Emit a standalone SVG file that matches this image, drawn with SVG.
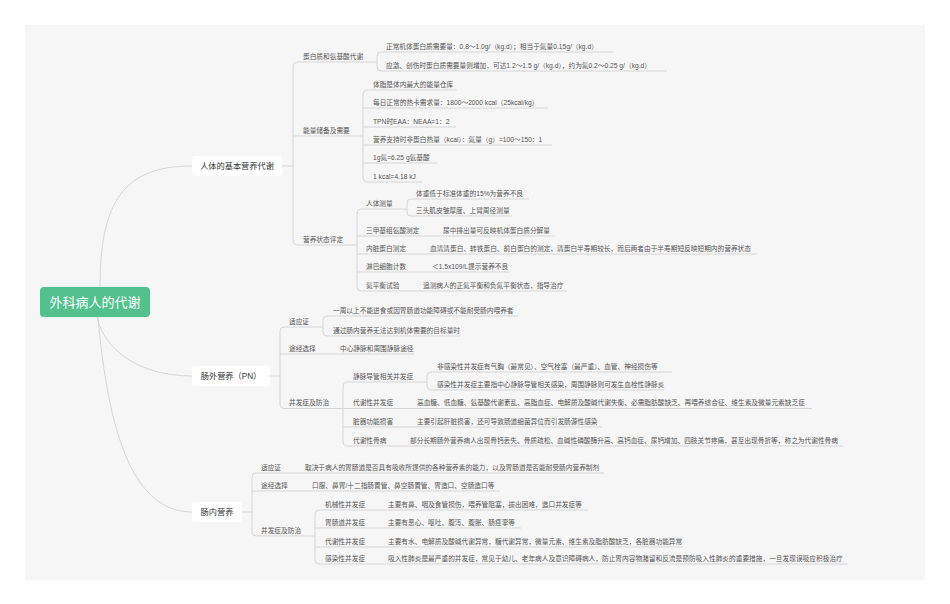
<svg xmlns="http://www.w3.org/2000/svg" width="950" height="604" viewBox="0 0 950 604">
<style>
.t{font-family:"Liberation Sans","Noto Sans CJK SC",sans-serif;font-size:6.7px;fill:#555}
.n{font-family:"Liberation Sans","Noto Sans CJK SC",sans-serif;font-size:8.2px;fill:#333;text-anchor:middle}
.r{font-family:"Liberation Sans","Noto Sans CJK SC",sans-serif;font-size:13px;fill:#fff;text-anchor:middle}
.c{fill:none;stroke:#d2d2d2;stroke-width:0.9}
.box{fill:#fff}
</style>
<rect x="0" y="0" width="950" height="604" fill="#fff"/>
<rect x="25" y="25" width="900" height="555" fill="#f6f6f6"/>
<g id="connectors" class="c">
<path d="M100 287 C100 200 125 166 192 166"/>
<path d="M97 317 C104 350 140 376 192 376"/>
<path d="M98 317 C108 430 132 512 192 512"/>
<!-- A -->
<path d="M282 166 H293"/>
<path d="M298 62 Q293 62 293 67 V240 Q293 245 298 245"/>
<path d="M298 62 H377"/>
<path d="M381 52 Q377 52 377 56 V67 Q377 71 381 71"/>
<path d="M381 52 H613"/>
<path d="M381 71 H667"/>
<path d="M293 136 H363"/>
<path d="M367 90 Q363 90 363 94 V178 Q363 182 367 182"/>
<path d="M367 90 H457"/>
<path d="M363 108 H548"/>
<path d="M363 127 H456"/>
<path d="M363 145 H552"/>
<path d="M363 163 H437"/>
<path d="M367 182 H422"/>
<path d="M298 245 H357"/>
<path d="M361 209 Q357 209 357 213 V287 Q357 291 361 291"/>
<path d="M361 209 H407"/>
<path d="M411 199 Q407 199 407 203 V212 Q407 216 411 216"/>
<path d="M411 199 H529"/>
<path d="M411 216 H512"/>
<path d="M357 236 H555"/>
<path d="M357 254 H757"/>
<path d="M357 272 H510"/>
<path d="M361 291 H567"/>
<!-- B -->
<path d="M270 376 H280"/>
<path d="M284 327 Q280 327 280 331 V404.5 Q280 408.5 284 408.5"/>
<path d="M284 327 H323"/>
<path d="M327 316 Q323 316 323 320 V332 Q323 336 327 336"/>
<path d="M327 316 H518"/>
<path d="M327 336 H460"/>
<path d="M280 354 H414"/>
<path d="M284 408.5 H343"/>
<path d="M347 382 Q343 382 343 386 V442 Q343 446 347 446"/>
<path d="M347 382 H427"/>
<path d="M431 372 Q427 372 427 376 V386 Q427 390 431 390"/>
<path d="M431 372 H672"/>
<path d="M431 390 H664"/>
<path d="M343 408.5 H812"/>
<path d="M343 427 H602"/>
<path d="M347 446 H843"/>
<!-- C -->
<path d="M242 512 H252"/>
<path d="M256 473 Q252 473 252 477 V532 Q252 536 256 536"/>
<path d="M256 473 H604"/>
<path d="M252 491 H500"/>
<path d="M256 536 H315"/>
<path d="M319 510 Q315 510 315 514 V560 Q315 564 319 564"/>
<path d="M319 510 H588"/>
<path d="M315 528 H521"/>
<path d="M315 547 H683"/>
<path d="M319 564 H848"/>
</g>
<g id="root"><rect x="40" y="287" width="110" height="30" rx="4" fill="#53c18d"/><text class="r" x="95" y="306.5">外科病人的代谢</text></g>
<g id="n-basic"><rect class="box" x="192" y="156" width="90" height="20" rx="4"/><text class="n" x="237" y="169">人体的基本营养代谢</text></g>
<g id="n-pn"><rect class="box" x="192" y="366" width="78" height="20" rx="4"/><text class="n" x="231" y="379">肠外营养（PN）</text></g>
<g id="n-en"><rect class="box" x="192" y="502" width="50" height="20" rx="4"/><text class="n" x="217" y="515">肠内营养</text></g>
<g id="a1"><text class="t" x="303" y="58.5">蛋白质和氨基酸代谢</text></g>
<g id="a1-1"><text class="t" x="386" y="48.5">正常机体蛋白质需要量：0.8～1.0g/（kg.d）；相当于氮量0.15g/（kg.d）</text></g>
<g id="a1-2"><text class="t" x="386" y="67.5">应激、创伤时蛋白质需要量则增加，可达1.2～1.5 g/（kg.d），约为氮0.2～0.25 g/（kg.d）</text></g>
<g id="a2"><text class="t" x="303" y="132.5">能量储备及需要</text></g>
<g id="a2-1"><text class="t" x="373" y="86.5">体脂是体内最大的能量仓库</text></g>
<g id="a2-2"><text class="t" x="373" y="104.5">每日正常的热卡需求量：1800～2000 kcal（25kcal/kg）</text></g>
<g id="a2-3"><text class="t" x="373" y="123.5">TPN时EAA：NEAA=1：2</text></g>
<g id="a2-4"><text class="t" x="373" y="141.5">营养支持时非蛋白热量（kcal）：氮量（g）=100～150：1</text></g>
<g id="a2-5"><text class="t" x="373" y="159.5">1g氮=6.25 g氨基酸</text></g>
<g id="a2-6"><text class="t" x="373" y="178.5">1 kcal=4.18 kJ</text></g>
<g id="a3"><text class="t" x="303" y="241.5">营养状态评定</text></g>
<g id="a3-1"><text class="t" x="366" y="205.5">人体测量</text></g>
<g id="a3-1-1"><text class="t" x="416" y="195.5">体重低于标准体重的15%为营养不良</text></g>
<g id="a3-1-2"><text class="t" x="416" y="212.5">三头肌皮皱厚度、上臂周径测量</text></g>
<g id="a3-2"><text class="t" x="366" y="232.5">三甲基组氨酸测定</text></g>
<g id="a3-2-1"><text class="t" x="443" y="232.5">尿中排出量可反映机体蛋白质分解量</text></g>
<g id="a3-3"><text class="t" x="366" y="250.5">内脏蛋白测定</text></g>
<g id="a3-3-1"><text class="t" x="430" y="250.5">血清清蛋白、转铁蛋白、前白蛋白的测定，清蛋白半寿期较长，而后两者由于半寿期短反映短期内的营养状态</text></g>
<g id="a3-4"><text class="t" x="366" y="268.5">淋巴细胞计数</text></g>
<g id="a3-4-1"><text class="t" x="432" y="268.5">＜1.5x109/L提示营养不良</text></g>
<g id="a3-5"><text class="t" x="366" y="287.5">氮平衡试验</text></g>
<g id="a3-5-1"><text class="t" x="423" y="287.5">追测病人的正氮平衡和负氮平衡状态，指导治疗</text></g>
<g id="b1"><text class="t" x="289" y="323.5">适应证</text></g>
<g id="b1-1"><text class="t" x="333" y="312.5">一周以上不能进食或因胃肠道功能障碍或不能耐受肠内喂养者</text></g>
<g id="b1-2"><text class="t" x="333" y="332.5">通过肠内营养无法达到机体需要的目标量时</text></g>
<g id="b2"><text class="t" x="289" y="350.5">途经选择</text></g>
<g id="b2-1"><text class="t" x="340" y="350.5">中心静脉和周围静脉途径</text></g>
<g id="b3"><text class="t" x="289" y="405">并发症及防治</text></g>
<g id="b3-1"><text class="t" x="353" y="378.5">静脉导管相关并发症</text></g>
<g id="b3-1-1"><text class="t" x="437" y="368.5">非感染性并发症有气胸（最常见）、空气栓塞（最严重）、血管、神经损伤等</text></g>
<g id="b3-1-2"><text class="t" x="437" y="386.5">感染性并发症主要指中心静脉导管相关感染，周围静脉则可发生血栓性静脉炎</text></g>
<g id="b3-2"><text class="t" x="353" y="405">代谢性并发症</text></g>
<g id="b3-2-1"><text class="t" x="417" y="405">高血糖、低血糖、氨基酸代谢紊乱、高脂血症、电解质及酸碱代谢失衡、必需脂肪酸缺乏、再喂养综合征、维生素及微量元素缺乏症</text></g>
<g id="b3-3"><text class="t" x="353" y="423.5">脏器功能损害</text></g>
<g id="b3-3-1"><text class="t" x="417" y="423.5">主要引起肝脏损害，还可导致肠道细菌异位而引发肠源性感染</text></g>
<g id="b3-4"><text class="t" x="353" y="442.5">代谢性骨病</text></g>
<g id="b3-4-1"><text class="t" x="410" y="442.5">部分长期肠外营养病人出现骨钙丢失、骨质疏松、血碱性磷酸酶升高、高钙血症、尿钙增加、四肢关节疼痛，甚至出现骨折等，称之为代谢性骨病</text></g>
<g id="c1"><text class="t" x="261" y="469.5">适应证</text></g>
<g id="c1-1"><text class="t" x="305" y="469.5">取决于病人的胃肠道是否具有吸收所提供的各种营养素的能力，以及胃肠道是否能耐受肠内营养制剂</text></g>
<g id="c2"><text class="t" x="261" y="487.5">途经选择</text></g>
<g id="c2-1"><text class="t" x="312" y="487.5">口服、鼻胃/十二指肠置管、鼻空肠置管、胃造口、空肠造口等</text></g>
<g id="c3"><text class="t" x="261" y="532.5">并发症及防治</text></g>
<g id="c3-1"><text class="t" x="325" y="506.5">机械性并发症</text></g>
<g id="c3-1-1"><text class="t" x="388" y="506.5">主要有鼻、咽及食管损伤，喂养管阻塞，拔出困难，造口并发症等</text></g>
<g id="c3-2"><text class="t" x="325" y="524.5">胃肠道并发症</text></g>
<g id="c3-2-1"><text class="t" x="388" y="524.5">主要有恶心、呕吐、腹泻、腹胀、肠痉挛等</text></g>
<g id="c3-3"><text class="t" x="325" y="543.5">代谢性并发症</text></g>
<g id="c3-3-1"><text class="t" x="388" y="543.5">主要有水、电解质及酸碱代谢异常，糖代谢异常，微量元素、维生素及脂肪酸缺乏，各脏器功能异常</text></g>
<g id="c3-4"><text class="t" x="325" y="560.5">感染性并发症</text></g>
<g id="c3-4-1"><text class="t" x="388" y="560.5">吸入性肺炎是最严重的并发症，常见于幼儿、老年病人及意识障碍病人，防止胃内容物潴留和反流是预防吸入性肺炎的重要措施，一旦发现误吸应积极治疗</text></g>
</svg>
